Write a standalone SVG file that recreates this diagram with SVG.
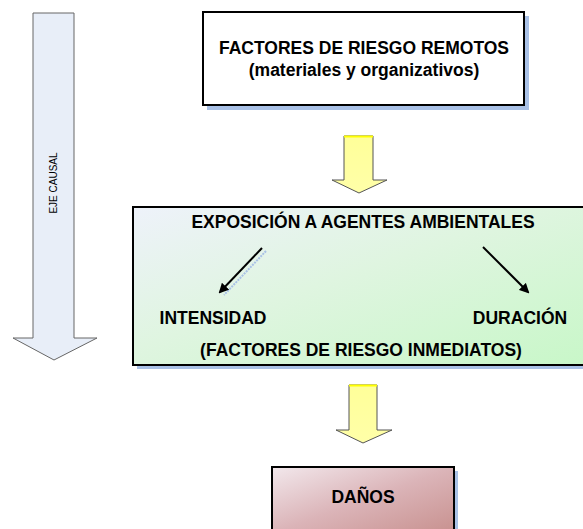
<svg xmlns="http://www.w3.org/2000/svg" width="583" height="529" viewBox="0 0 583 529">
<style>
text{font-family:"Liberation Sans",Arial,sans-serif;fill:#000}
.b{font-weight:bold;font-size:17.5px;text-anchor:middle}
.shadow{fill:#a9c1e6}
.yarrow{fill:url(#yg);stroke:#555;stroke-width:1}
.cline{stroke:#000;stroke-width:2;fill:none;marker-end:url(#ah)}
.sline{stroke:#a9c1e6;stroke-width:2;fill:none;stroke-dasharray:2 1}
</style>
<defs>
<linearGradient id="gg" x1="0" y1="0" x2="1" y2="1">
<stop offset="0" stop-color="#eef2fa"/>
<stop offset="0.45" stop-color="#dff5e0"/>
<stop offset="1" stop-color="#c8f7c8"/>
</linearGradient>
<linearGradient id="rg" x1="0" y1="0" x2="1" y2="1">
<stop offset="0" stop-color="#f2e8ec"/>
<stop offset="0.5" stop-color="#dbb4b8"/>
<stop offset="1" stop-color="#c8918f"/>
</linearGradient>
<linearGradient id="yg" x1="0" y1="0" x2="0" y2="1">
<stop offset="0" stop-color="#ffff99"/>
<stop offset="1" stop-color="#ffffa8"/>
</linearGradient>
<marker id="ah" viewBox="0 0 10 10" refX="8" refY="5" markerWidth="5" markerHeight="5" orient="auto">
<path d="M0,0 L10,5 L0,10 z" fill="#000"/>
</marker>
</defs>
<rect width="583" height="529" fill="#fff"/>

<g id="eje-causal">
<path d="M33,13 H74 V338 H97 L54,360 L13,338 H33 Z" fill="#e8eef8" stroke="#666" stroke-width="1"/>
<text x="0" y="0" font-size="10" text-anchor="middle" transform="translate(57,183) rotate(-90)">EJE CAUSAL</text>
</g>

<g id="factores-remotos">
<rect class="shadow" x="207" y="16" width="322" height="94"/>
<rect x="203" y="12" width="321" height="93" fill="#fff" stroke="#000" stroke-width="2"/>
<text class="b" x="364" y="54">FACTORES DE RIESGO REMOTOS</text>
<text class="b" x="364" y="76" font-size="17">(materiales y organizativos)</text>
</g>

<g id="connectors">
<path class="yarrow" d="M344,136 H373 V180 H387 L359,193 L332,180 H344 Z"/>
<line x1="344" y1="136.5" x2="373" y2="136.5" stroke="#ffff00" stroke-width="2"/>
<path class="yarrow" d="M349,385 H377 V430 H392 L363,443 L336,430 H349 Z"/>
<line x1="349" y1="385.5" x2="377" y2="385.5" stroke="#ffff00" stroke-width="2"/>
</g>

<g id="exposicion">
<rect class="shadow" x="137" y="211" width="450" height="158"/>
<rect x="133" y="207" width="455" height="158" fill="url(#gg)" stroke="#000" stroke-width="2"/>
<text class="b" x="363" y="228">EXPOSICIÓN A AGENTES AMBIENTALES</text>
<line class="sline" x1="266" y1="251" x2="224" y2="295"/>
<line class="cline" x1="262" y1="248" x2="220" y2="292"/>
<line class="cline" x1="483" y1="247" x2="528" y2="292"/>
<text x="213" y="324" font-weight="bold" font-size="17.5" text-anchor="middle">INTENSIDAD</text>
<text x="520" y="324" font-weight="bold" font-size="17.5" text-anchor="middle">DURACIÓN</text>
<text class="b" x="361" y="356">(FACTORES DE RIESGO INMEDIATOS)</text>
</g>

<g id="danos">
<rect class="shadow" x="276" y="471" width="182" height="62"/>
<rect x="272" y="467" width="182" height="66" fill="url(#rg)" stroke="#000" stroke-width="2"/>
<text class="b" x="363" y="503">DAÑOS</text>
</g>
</svg>
